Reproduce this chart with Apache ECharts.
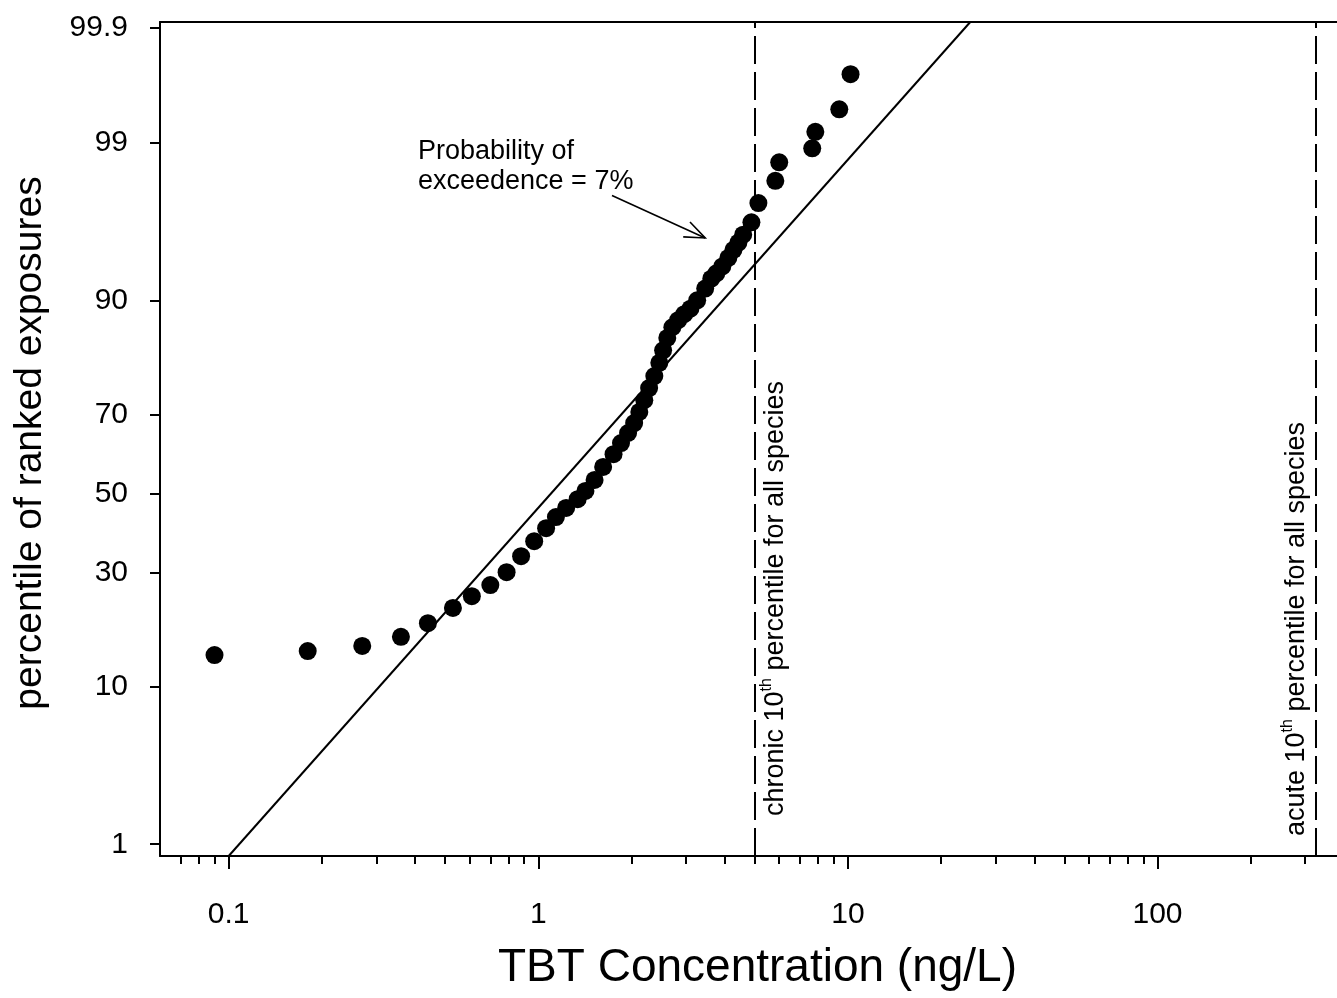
<!DOCTYPE html>
<html>
<head>
<meta charset="utf-8">
<script src="https://cdn.jsdelivr.net/npm/echarts@6/dist/echarts.min.js"></script>
<style>
html,body{margin:0;padding:0;background:#fff;}
#chart{width:1337px;height:998px;}
</style>
</head>
<body>
<div id="chart"></div>
<script>
// ---- data ----
const concentrations = [0.09, 0.18, 0.27, 0.36, 0.44, 0.53, 0.61, 0.70, 0.79, 0.88,
  0.97, 1.06, 1.14, 1.23, 1.34, 1.42, 1.52, 1.62, 1.75, 1.85,
  1.95, 2.04, 2.12, 2.20, 2.28, 2.37, 2.46, 2.53, 2.61, 2.71,
  2.83, 2.96, 3.10, 3.26, 3.46, 3.62, 3.76, 3.93, 4.11, 4.27,
  4.43, 4.59, 4.88, 5.14, 5.83, 6.00, 7.67, 7.85, 9.38, 10.2];
const percentiles = [14.2, 14.8, 15.6, 17.1, 19.5, 22.4, 24.8, 27.2, 30.1, 33.9,
  37.6, 40.9, 43.8, 46.2, 48.5, 50.7, 53.6, 57.0, 60.3, 63.1,
  65.6, 68.0, 70.6, 73.2, 75.8, 78.2, 80.7, 82.9, 84.9, 86.5,
  87.5, 88.3, 89.0, 90.0, 91.3, 92.3, 92.8, 93.4, 94.1, 94.7,
  95.2, 95.7, 96.4, 97.3, 98.1, 98.6, 98.9, 99.18, 99.46, 99.73];
const fitConc = [0.1, 24.85];
const fitPct = [0.81, 99.912];
const chronicValue = 5;
const acuteValue = 320;
const arrowConc = [1.73, 3.46];
const arrowPct = [97.6, 95.5];
const xTickValues = [0.1, 1, 10, 100];
const xTickLabels = ['0.1', '1', '10', '100'];
const xMinorTicks = [0.07, 0.08, 0.09, 0.2, 0.3, 0.4, 0.5, 0.6, 0.7, 0.8, 0.9,
  2, 3, 4, 5, 6, 7, 8, 9, 20, 30, 40, 50, 60, 70, 80, 90, 200, 300];
const yTickPercents = [1, 10, 30, 50, 70, 90, 99, 99.9];
const yTickLabels = ['1', '10', '30', '50', '70', '90', '99', '99.9'];
const xRange = [0.06, 380];
const yRangePct = [0.81, 99.912];

// ---- scale transforms (log10 for x, normal probability for y) ----
function normInv(p) {
  const a = [-3.969683028665376e+01, 2.209460984245205e+02, -2.759285104469687e+02, 1.383577518672690e+02, -3.066479806614716e+01, 2.506628277459239e+00];
  const b = [-5.447609879822406e+01, 1.615858368580409e+02, -1.556989798598866e+02, 6.680131188771972e+01, -1.328068155288572e+01];
  const c = [-7.784894002430293e-03, -3.223964580411365e-01, -2.400758277161838e+00, -2.549671010139572e+00, 4.374664141464968e+00, 2.938163982698783e+00];
  const d = [7.784695709041462e-03, 3.224671290700398e-01, 2.445134137142996e+00, 3.754408661907416e+00];
  const plow = 0.02425, phigh = 1 - plow;
  let q, r;
  if (p < plow) {
    q = Math.sqrt(-2 * Math.log(p));
    return (((((c[0]*q+c[1])*q+c[2])*q+c[3])*q+c[4])*q+c[5]) / ((((d[0]*q+d[1])*q+d[2])*q+d[3])*q+1);
  }
  if (p <= phigh) {
    q = p - 0.5; r = q * q;
    return (((((a[0]*r+a[1])*r+a[2])*r+a[3])*r+a[4])*r+a[5])*q / (((((b[0]*r+b[1])*r+b[2])*r+b[3])*r+b[4])*r+1);
  }
  q = Math.sqrt(-2 * Math.log(1 - p));
  return -(((((c[0]*q+c[1])*q+c[2])*q+c[3])*q+c[4])*q+c[5]) / ((((d[0]*q+d[1])*q+d[2])*q+d[3])*q+1);
}
const zp = pct => normInv(pct / 100);
const lx = v => Math.log10(v);

const yTickZ = yTickPercents.map(zp);
const xTickL = xTickValues.map(lx);

function nearestLabel(v, vals, labels) {
  let best = 0, bd = Infinity;
  vals.forEach((t, i) => { const dd = Math.abs(t - v); if (dd < bd) { bd = dd; best = i; } });
  return labels[best];
}

const FONT = 'Liberation Sans, Arial, sans-serif';
const chart = echarts.init(document.getElementById('chart'), null, { renderer: 'canvas' });

const scatterData = concentrations.map((c, i) => [lx(c), zp(percentiles[i])]);
const fitData = fitConc.map((c, i) => [lx(c), zp(fitPct[i])]);
const arrowData = [[lx(arrowConc[0]), zp(arrowPct[0]), lx(arrowConc[1]), zp(arrowPct[1])]];

const richLabel = {
  a: { fontSize: 27, fontFamily: FONT, fill: '#000', color: '#000', lineHeight: 30, verticalAlign: 'bottom' },
  s: { fontSize: 16, fontFamily: FONT, fill: '#000', color: '#000', lineHeight: 30, verticalAlign: 'top' }
};

const option = {
  backgroundColor: '#fff',
  animation: false,
  grid: { left: 160, top: 22, right: 0, bottom: 142, show: false },
  xAxis: [
    {
      type: 'value', min: lx(xRange[0]), max: lx(xRange[1]), position: 'bottom',
      axisLine: { onZero: false, lineStyle: { color: '#000', width: 2 } },
      axisTick: { show: true, customValues: xTickL, length: 13, inside: false, lineStyle: { color: '#000', width: 2 } },
      axisLabel: { customValues: xTickL, formatter: v => nearestLabel(v, xTickL, xTickLabels),
        fontSize: 30, color: '#000', margin: 44, fontFamily: FONT },
      splitLine: { show: false },
      name: 'TBT Concentration (ng/L)', nameLocation: 'middle', nameGap: 89,
      nameTextStyle: { fontSize: 46, color: '#000', fontFamily: FONT, padding: [0, 0, 0, 18] }
    },
    {
      type: 'value', min: lx(xRange[0]), max: lx(xRange[1]), position: 'bottom',
      axisLine: { show: false, onZero: false },
      axisTick: { show: true, customValues: xMinorTicks.map(lx), length: 8, inside: false, lineStyle: { color: '#000', width: 2 } },
      axisLabel: { show: false },
      splitLine: { show: false }
    },
    {
      type: 'value', min: lx(xRange[0]), max: lx(xRange[1]), position: 'top',
      axisLine: { show: true, onZero: false, lineStyle: { color: '#000', width: 2 } },
      axisTick: { show: false }, axisLabel: { show: false }, splitLine: { show: false }
    }
  ],
  yAxis: {
    type: 'value', min: zp(yRangePct[0]), max: zp(yRangePct[1]),
    axisLine: { onZero: false, lineStyle: { color: '#000', width: 2 } },
    axisTick: { show: true, customValues: yTickZ, length: 10, inside: false, lineStyle: { color: '#000', width: 2 } },
    axisLabel: { customValues: yTickZ, formatter: v => nearestLabel(v, yTickZ, yTickLabels),
      fontSize: 30, color: '#000', margin: 32, fontFamily: FONT },
    splitLine: { show: false },
    name: 'percentile of ranked exposures', nameLocation: 'middle', nameGap: 110, nameRotate: 90,
    nameTextStyle: { fontSize: 39, color: '#000', fontFamily: FONT, padding: [0, 8, 0, 0] }
  },
  series: [
    {
      type: 'line', data: fitData, showSymbol: false, symbol: 'none',
      lineStyle: { color: '#000', width: 2 }, z: 2, silent: true,
      markLine: {
        silent: true, symbol: ['none', 'none'],
        lineStyle: { color: '#000', width: 2, type: [28, 8] },
        label: { show: false },
        data: [{ xAxis: lx(chronicValue) }, { xAxis: lx(acuteValue) }]
      }
    },
    {
      type: 'scatter', data: scatterData, symbol: 'circle', symbolSize: 18,
      itemStyle: { color: '#000', opacity: 1 }, z: 3, silent: true
    },
    {
      type: 'custom', data: arrowData, silent: true, z: 4,
      renderItem: function (params, api) {
        const p1 = api.coord([api.value(0), api.value(1)]);
        const p2 = api.coord([api.value(2), api.value(3)]);
        const ang = Math.atan2(p2[1] - p1[1], p2[0] - p1[0]);
        const L = 22, spread = 0.38;
        const h1 = [p2[0] - L * Math.cos(ang - spread), p2[1] - L * Math.sin(ang - spread)];
        const h2 = [p2[0] - L * Math.cos(ang + spread), p2[1] - L * Math.sin(ang + spread)];
        return {
          type: 'group',
          children: [
            { type: 'line', shape: { x1: p1[0], y1: p1[1], x2: p2[0], y2: p2[1] }, style: { stroke: '#000', lineWidth: 1.6 } },
            { type: 'polyline', shape: { points: [h1, p2, h2] }, style: { stroke: '#000', lineWidth: 1.6, fill: null } }
          ]
        };
      }
    }
  ],
  graphic: [
    {
      type: 'text', x: 418, y: 137, silent: true,
      style: { text: 'Probability of\nexceedence = 7%', fill: '#000', font: '27px ' + FONT, lineHeight: 30,
        textAlign: 'left', textVerticalAlign: 'top' }
    },
    {
      type: 'text', x: 774, y: 816, rotation: Math.PI / 2, silent: true,
      style: {
        text: '{a|chronic 10}{s|th}{a| percentile for all species}',
        textAlign: 'left', textVerticalAlign: 'middle', rich: richLabel
      }
    },
    {
      type: 'text', x: 1295, y: 836, rotation: Math.PI / 2, silent: true,
      style: {
        text: '{a|acute 10}{s|th}{a| percentile for all species}',
        textAlign: 'left', textVerticalAlign: 'middle', rich: richLabel
      }
    }
  ]
};
chart.setOption(option);
</script>
</body>
</html>
